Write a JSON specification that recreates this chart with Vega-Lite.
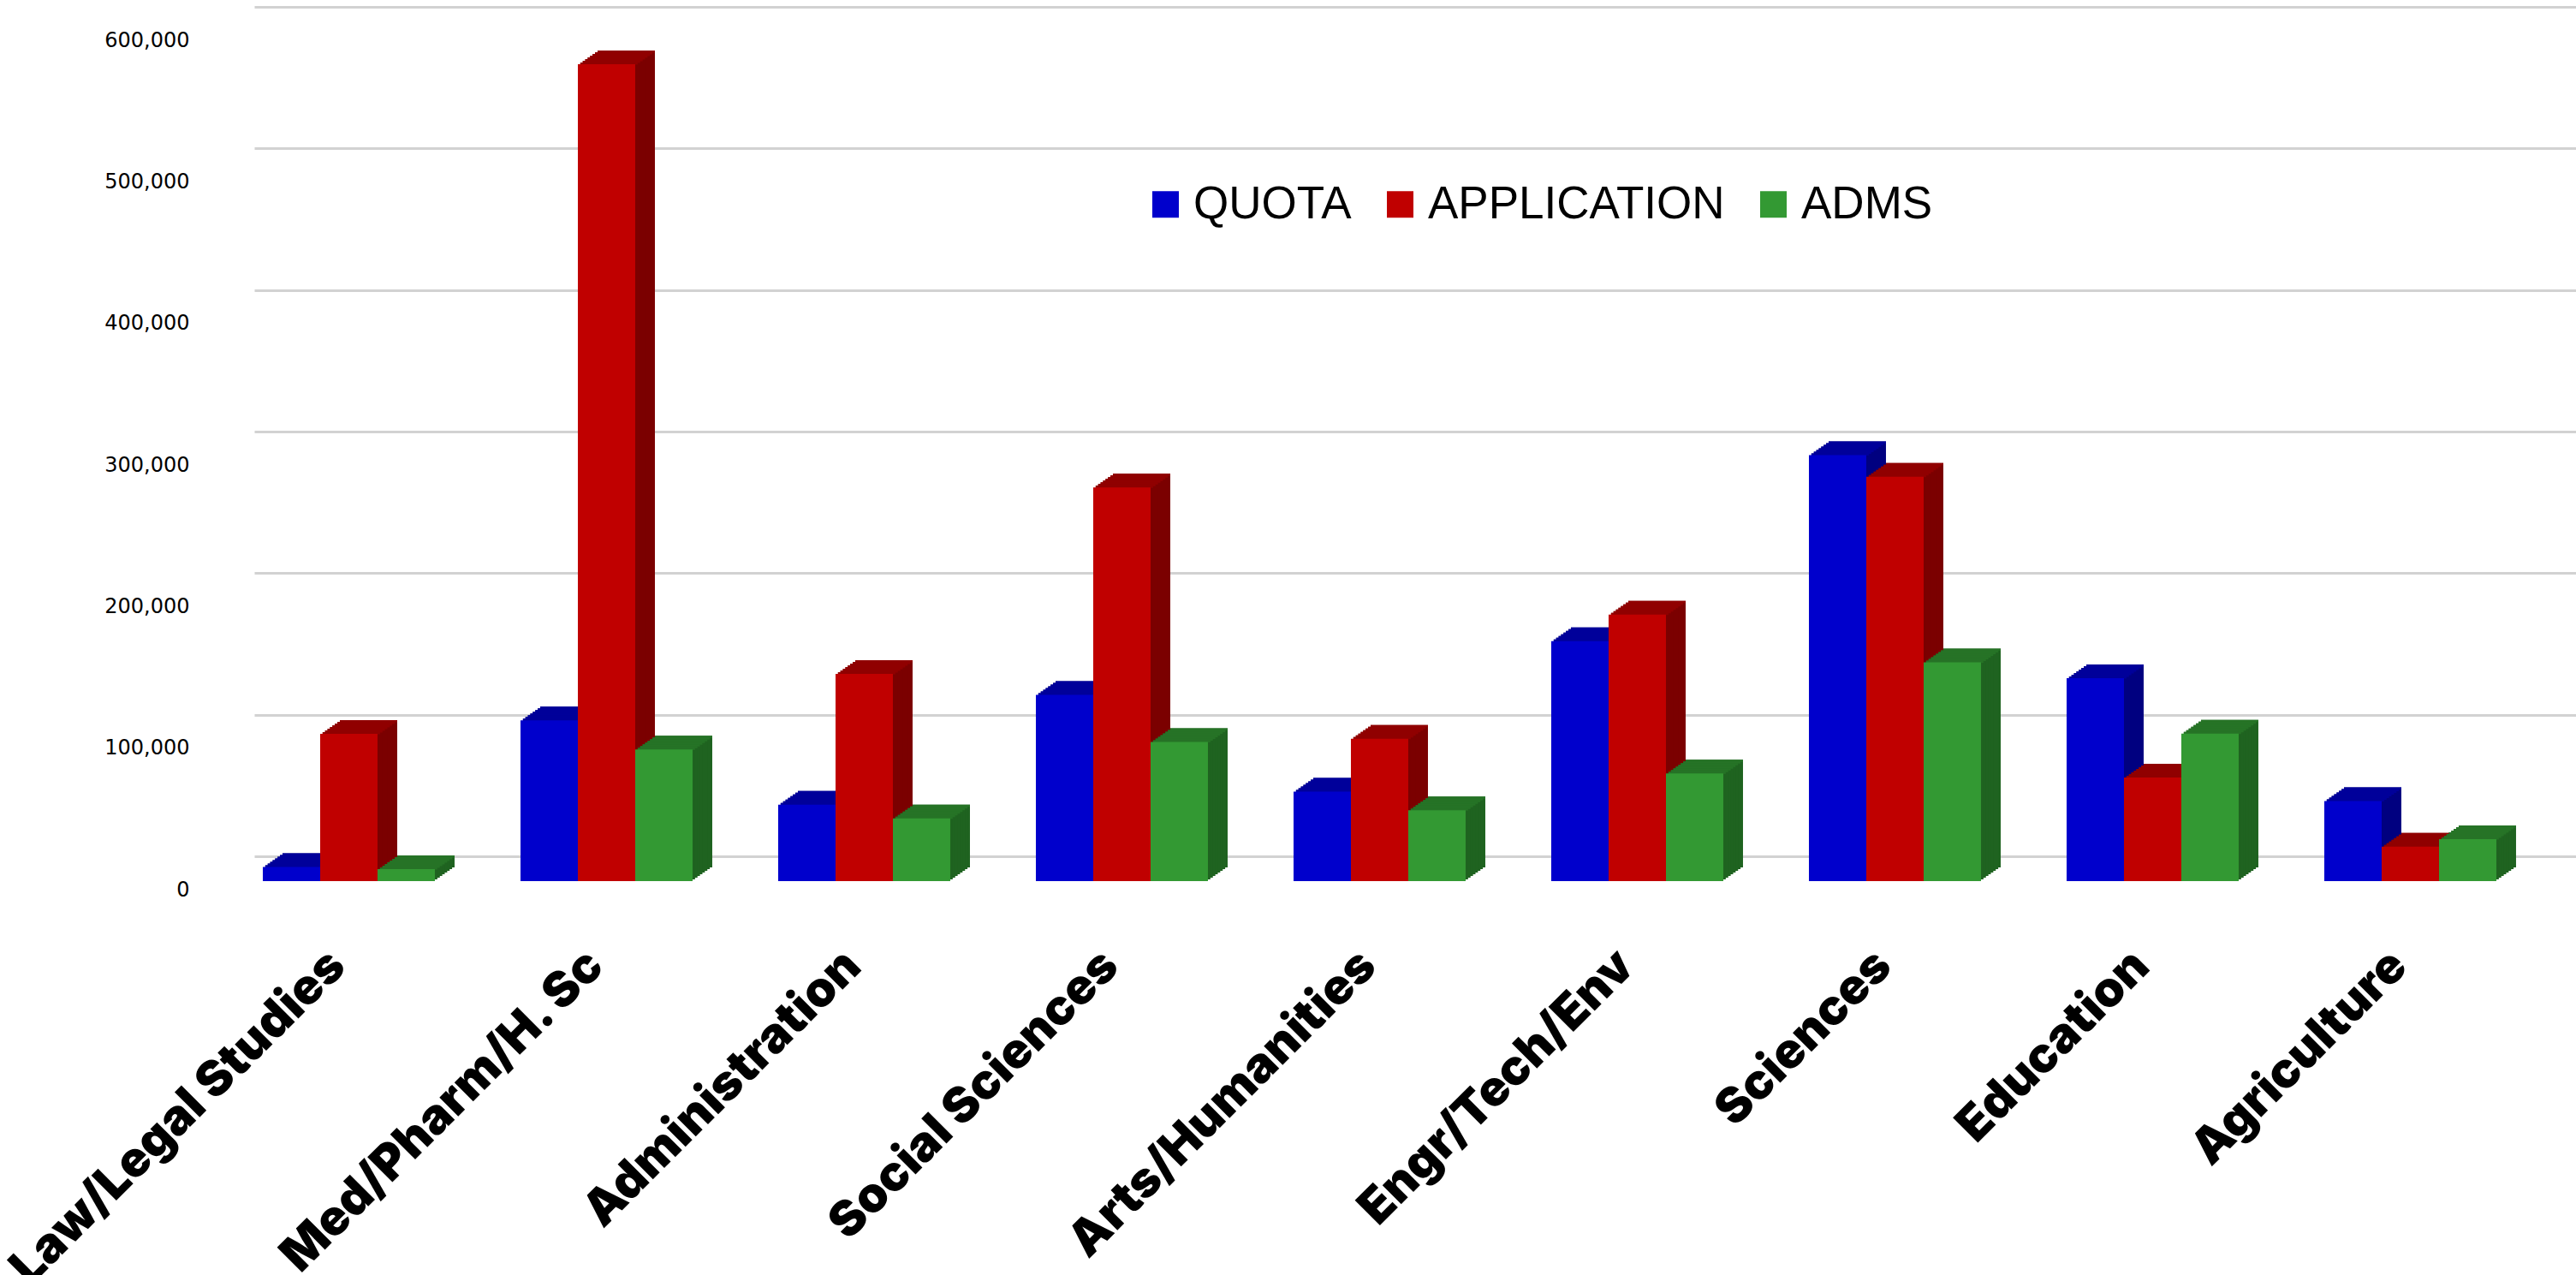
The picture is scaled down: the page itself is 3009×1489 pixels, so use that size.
{
  "$schema": "https://vega.github.io/schema/vega-lite/v6.json",
  "width": 2712,
  "height": 992,
  "autosize": {"type": "none"},
  "padding": {"left": 297, "top": 37, "right": 0, "bottom": 460},
  "background": "white",
  "config": {"view": {"stroke": null}},
  "data": {
    "values": [
      {"field": "Law/Legal Studies", "series": "QUOTA", "value": 10000},
      {"field": "Law/Legal Studies", "series": "APPLICATION", "value": 104000},
      {"field": "Law/Legal Studies", "series": "ADMS", "value": 8500},
      {"field": "Med/Pharm/H. Sc", "series": "QUOTA", "value": 113500},
      {"field": "Med/Pharm/H. Sc", "series": "APPLICATION", "value": 577000},
      {"field": "Med/Pharm/H. Sc", "series": "ADMS", "value": 93000},
      {"field": "Administration", "series": "QUOTA", "value": 54000},
      {"field": "Administration", "series": "APPLICATION", "value": 146300},
      {"field": "Administration", "series": "ADMS", "value": 44300},
      {"field": "Social Sciences", "series": "QUOTA", "value": 131500},
      {"field": "Social Sciences", "series": "APPLICATION", "value": 278000},
      {"field": "Social Sciences", "series": "ADMS", "value": 98300},
      {"field": "Arts/Humanities", "series": "QUOTA", "value": 63200},
      {"field": "Arts/Humanities", "series": "APPLICATION", "value": 100600},
      {"field": "Arts/Humanities", "series": "ADMS", "value": 50000},
      {"field": "Engr/Tech/Env", "series": "QUOTA", "value": 169500},
      {"field": "Engr/Tech/Env", "series": "APPLICATION", "value": 188200},
      {"field": "Engr/Tech/Env", "series": "ADMS", "value": 76100},
      {"field": "Sciences", "series": "QUOTA", "value": 300900},
      {"field": "Sciences", "series": "APPLICATION", "value": 285700},
      {"field": "Sciences", "series": "ADMS", "value": 154600},
      {"field": "Education", "series": "QUOTA", "value": 143300},
      {"field": "Education", "series": "APPLICATION", "value": 73200},
      {"field": "Education", "series": "ADMS", "value": 104200},
      {"field": "Agriculture", "series": "QUOTA", "value": 56500},
      {"field": "Agriculture", "series": "APPLICATION", "value": 24300},
      {"field": "Agriculture", "series": "ADMS", "value": 29600}
    ]
  },
  "encoding": {
    "x": {
      "field": "field",
      "type": "nominal",
      "scale": {
        "domain": ["Law/Legal Studies", "Med/Pharm/H. Sc", "Administration", "Social Sciences", "Arts/Humanities", "Engr/Tech/Env", "Sciences", "Education", "Agriculture"],
        "paddingInner": 0.3322,
        "paddingOuter": 0.1711,
        "align": 0.097
      },
      "axis": {
        "title": null,
        "domain": false,
        "ticks": false,
        "grid": false,
        "labelAngle": -45,
        "labelAlign": "right",
        "labelBaseline": "middle",
        "labelFont": "Inter",
        "labelFontWeight": 900,
        "labelFontSize": 57,
        "labelColor": "#000000",
        "labelPadding": 90,
        "labelOffset": -13,
        "labelLimit": 2000
      }
    },
    "y": {
      "field": "value",
      "type": "quantitative",
      "scale": {"domain": [0, 600000], "nice": false},
      "axis": {
        "title": null,
        "domain": false,
        "ticks": false,
        "grid": true,
        "gridColor": "#d2d2d2",
        "gridWidth": 3,
        "values": [0, 100000, 200000, 300000, 400000, 500000, 600000],
        "format": ",d",
        "labelFont": "DejaVu Sans",
        "labelFontSize": 24,
        "labelColor": "#000000",
        "labelPadding": 76,
        "tickOffset": -29,
        "labelOffset": 39
      }
    }
  },
  "resolve": {"scale": {"color": "independent", "xOffset": "independent"}, "legend": {"color": "independent"}},
  "layer": [
    {"mark": {"type": "bar", "yOffset": -16, "y2Offset": -16}, "encoding": {"xOffset": {"field": "series", "type": "nominal", "scale": {"domain": ["QUOTA", "APPLICATION", "ADMS"], "range": [23, 224], "paddingInner": 0, "paddingOuter": 0}}, "color": {"field": "series", "type": "nominal", "scale": {"domain": ["QUOTA", "APPLICATION", "ADMS"], "range": ["#000080", "#7b0000", "#1f6320"]}, "legend": null}}},
    {"mark": {"type": "bar", "yOffset": -14, "y2Offset": -14}, "encoding": {"xOffset": {"field": "series", "type": "nominal", "scale": {"domain": ["QUOTA", "APPLICATION", "ADMS"], "range": [20.125, 221.125], "paddingInner": 0, "paddingOuter": 0}}, "color": {"field": "series", "type": "nominal", "scale": {"domain": ["QUOTA", "APPLICATION", "ADMS"], "range": ["#000080", "#7b0000", "#1f6320"]}, "legend": null}}},
    {"mark": {"type": "bar", "yOffset": -12, "y2Offset": -12}, "encoding": {"xOffset": {"field": "series", "type": "nominal", "scale": {"domain": ["QUOTA", "APPLICATION", "ADMS"], "range": [17.25, 218.25], "paddingInner": 0, "paddingOuter": 0}}, "color": {"field": "series", "type": "nominal", "scale": {"domain": ["QUOTA", "APPLICATION", "ADMS"], "range": ["#000080", "#7b0000", "#1f6320"]}, "legend": null}}},
    {"mark": {"type": "bar", "yOffset": -10, "y2Offset": -10}, "encoding": {"xOffset": {"field": "series", "type": "nominal", "scale": {"domain": ["QUOTA", "APPLICATION", "ADMS"], "range": [14.375, 215.375], "paddingInner": 0, "paddingOuter": 0}}, "color": {"field": "series", "type": "nominal", "scale": {"domain": ["QUOTA", "APPLICATION", "ADMS"], "range": ["#000080", "#7b0000", "#1f6320"]}, "legend": null}}},
    {"mark": {"type": "bar", "yOffset": -8, "y2Offset": -8}, "encoding": {"xOffset": {"field": "series", "type": "nominal", "scale": {"domain": ["QUOTA", "APPLICATION", "ADMS"], "range": [11.5, 212.5], "paddingInner": 0, "paddingOuter": 0}}, "color": {"field": "series", "type": "nominal", "scale": {"domain": ["QUOTA", "APPLICATION", "ADMS"], "range": ["#000080", "#7b0000", "#1f6320"]}, "legend": null}}},
    {"mark": {"type": "bar", "yOffset": -6, "y2Offset": -6}, "encoding": {"xOffset": {"field": "series", "type": "nominal", "scale": {"domain": ["QUOTA", "APPLICATION", "ADMS"], "range": [8.625, 209.625], "paddingInner": 0, "paddingOuter": 0}}, "color": {"field": "series", "type": "nominal", "scale": {"domain": ["QUOTA", "APPLICATION", "ADMS"], "range": ["#000080", "#7b0000", "#1f6320"]}, "legend": null}}},
    {"mark": {"type": "bar", "yOffset": -4, "y2Offset": -4}, "encoding": {"xOffset": {"field": "series", "type": "nominal", "scale": {"domain": ["QUOTA", "APPLICATION", "ADMS"], "range": [5.75, 206.75], "paddingInner": 0, "paddingOuter": 0}}, "color": {"field": "series", "type": "nominal", "scale": {"domain": ["QUOTA", "APPLICATION", "ADMS"], "range": ["#000080", "#7b0000", "#1f6320"]}, "legend": null}}},
    {"mark": {"type": "bar", "yOffset": -2, "y2Offset": -2}, "encoding": {"xOffset": {"field": "series", "type": "nominal", "scale": {"domain": ["QUOTA", "APPLICATION", "ADMS"], "range": [2.875, 203.875], "paddingInner": 0, "paddingOuter": 0}}, "color": {"field": "series", "type": "nominal", "scale": {"domain": ["QUOTA", "APPLICATION", "ADMS"], "range": ["#000080", "#7b0000", "#1f6320"]}, "legend": null}}},
    {"mark": {"type": "bar", "yOffset": -16, "y2Offset": -13.5}, "encoding": {"y2": {"field": "value"}, "xOffset": {"field": "series", "type": "nominal", "scale": {"domain": ["QUOTA", "APPLICATION", "ADMS"], "range": [23, 224], "paddingInner": 0, "paddingOuter": 0}}, "color": {"field": "series", "type": "nominal", "scale": {"domain": ["QUOTA", "APPLICATION", "ADMS"], "range": ["#00009a", "#900000", "#267326"]}, "legend": null}}},
    {"mark": {"type": "bar", "yOffset": -14, "y2Offset": -11.5}, "encoding": {"y2": {"field": "value"}, "xOffset": {"field": "series", "type": "nominal", "scale": {"domain": ["QUOTA", "APPLICATION", "ADMS"], "range": [20.125, 221.125], "paddingInner": 0, "paddingOuter": 0}}, "color": {"field": "series", "type": "nominal", "scale": {"domain": ["QUOTA", "APPLICATION", "ADMS"], "range": ["#00009a", "#900000", "#267326"]}, "legend": null}}},
    {"mark": {"type": "bar", "yOffset": -12, "y2Offset": -9.5}, "encoding": {"y2": {"field": "value"}, "xOffset": {"field": "series", "type": "nominal", "scale": {"domain": ["QUOTA", "APPLICATION", "ADMS"], "range": [17.25, 218.25], "paddingInner": 0, "paddingOuter": 0}}, "color": {"field": "series", "type": "nominal", "scale": {"domain": ["QUOTA", "APPLICATION", "ADMS"], "range": ["#00009a", "#900000", "#267326"]}, "legend": null}}},
    {"mark": {"type": "bar", "yOffset": -10, "y2Offset": -7.5}, "encoding": {"y2": {"field": "value"}, "xOffset": {"field": "series", "type": "nominal", "scale": {"domain": ["QUOTA", "APPLICATION", "ADMS"], "range": [14.375, 215.375], "paddingInner": 0, "paddingOuter": 0}}, "color": {"field": "series", "type": "nominal", "scale": {"domain": ["QUOTA", "APPLICATION", "ADMS"], "range": ["#00009a", "#900000", "#267326"]}, "legend": null}}},
    {"mark": {"type": "bar", "yOffset": -8, "y2Offset": -5.5}, "encoding": {"y2": {"field": "value"}, "xOffset": {"field": "series", "type": "nominal", "scale": {"domain": ["QUOTA", "APPLICATION", "ADMS"], "range": [11.5, 212.5], "paddingInner": 0, "paddingOuter": 0}}, "color": {"field": "series", "type": "nominal", "scale": {"domain": ["QUOTA", "APPLICATION", "ADMS"], "range": ["#00009a", "#900000", "#267326"]}, "legend": null}}},
    {"mark": {"type": "bar", "yOffset": -6, "y2Offset": -3.5}, "encoding": {"y2": {"field": "value"}, "xOffset": {"field": "series", "type": "nominal", "scale": {"domain": ["QUOTA", "APPLICATION", "ADMS"], "range": [8.625, 209.625], "paddingInner": 0, "paddingOuter": 0}}, "color": {"field": "series", "type": "nominal", "scale": {"domain": ["QUOTA", "APPLICATION", "ADMS"], "range": ["#00009a", "#900000", "#267326"]}, "legend": null}}},
    {"mark": {"type": "bar", "yOffset": -4, "y2Offset": -1.5}, "encoding": {"y2": {"field": "value"}, "xOffset": {"field": "series", "type": "nominal", "scale": {"domain": ["QUOTA", "APPLICATION", "ADMS"], "range": [5.75, 206.75], "paddingInner": 0, "paddingOuter": 0}}, "color": {"field": "series", "type": "nominal", "scale": {"domain": ["QUOTA", "APPLICATION", "ADMS"], "range": ["#00009a", "#900000", "#267326"]}, "legend": null}}},
    {"mark": {"type": "bar", "yOffset": -2, "y2Offset": 0.5}, "encoding": {"y2": {"field": "value"}, "xOffset": {"field": "series", "type": "nominal", "scale": {"domain": ["QUOTA", "APPLICATION", "ADMS"], "range": [2.875, 203.875], "paddingInner": 0, "paddingOuter": 0}}, "color": {"field": "series", "type": "nominal", "scale": {"domain": ["QUOTA", "APPLICATION", "ADMS"], "range": ["#00009a", "#900000", "#267326"]}, "legend": null}}},
    {
      "mark": {"type": "bar"},
      "encoding": {
        "xOffset": {"field": "series", "type": "nominal", "scale": {"domain": ["QUOTA", "APPLICATION", "ADMS"], "range": [0, 201], "paddingInner": 0, "paddingOuter": 0}},
        "color": {
          "field": "series",
          "type": "nominal",
          "scale": {"domain": ["QUOTA", "APPLICATION", "ADMS"], "range": ["#0000cc", "#c00000", "#339933"]},
          "legend": {
            "title": null,
            "orient": "none",
            "legendX": 1038,
            "legendY": 175,
            "direction": "horizontal",
            "padding": 0,
            "symbolType": "square",
            "symbolSize": 961,
            "symbolStrokeWidth": 0,
            "labelFont": "Liberation Sans",
            "labelFontSize": 53,
            "labelColor": "#000000",
            "labelOffset": 6,
            "labelLimit": 0,
            "columnPadding": 30
          }
        }
      }
    }
  ]
}
